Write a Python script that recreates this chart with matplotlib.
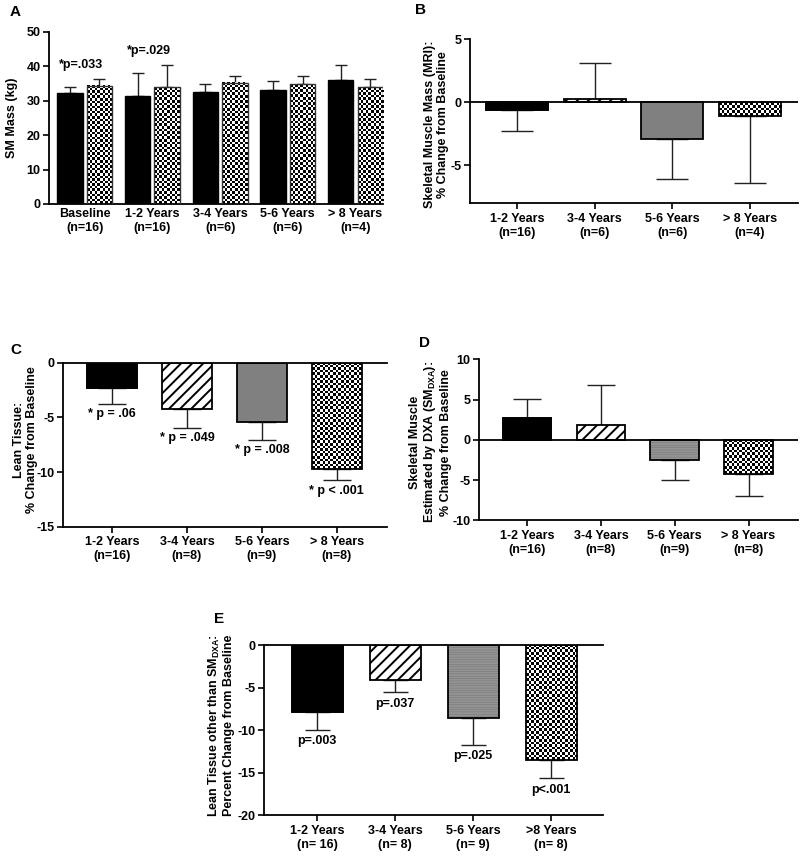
import numpy as np
import matplotlib
matplotlib.use('Agg')
import matplotlib.pyplot as plt

plt.rcParams['font.family'] = ['Liberation Sans', 'DejaVu Sans']
plt.rcParams['font.weight'] = 'bold'
plt.rcParams['font.size'] = 9
plt.rcParams['axes.labelweight'] = 'bold'
plt.rcParams['axes.unicode_minus'] = False
plt.rcParams['mathtext.fontset'] = 'custom'
plt.rcParams['mathtext.rm'] = 'Liberation Sans:bold'
plt.rcParams['mathtext.bf'] = 'Liberation Sans:bold'
plt.rcParams['hatch.linewidth'] = 1.4

# ---- data ----
a_groups = ['Baseline\n(n=16)', '1-2 Years\n(n=16)', '3-4 Years\n(n=6)',
            '5-6 Years\n(n=6)', '> 8 Years\n(n=4)']
a_black = [32.3, 31.5, 32.5, 33.2, 35.9]
a_black_err = [1.7, 6.5, 2.5, 2.6, 4.4]
a_check = [34.4, 33.9, 35.2, 34.8, 34.0]
a_check_err = [1.8, 6.4, 2.1, 2.3, 2.2]
a_notes = {0: '*p=.033', 1: '*p=.029'}

b_groups = ['1-2 Years\n(n=16)', '3-4 Years\n(n=6)', '5-6 Years\n(n=6)', '> 8 Years\n(n=4)']
b_vals = [-0.6, 0.3, -2.9, -1.08]
b_err = [1.7, 2.8, 3.15, 5.3]

c_groups = ['1-2 Years\n(n=16)', '3-4 Years\n(n=8)', '5-6 Years\n(n=9)', '> 8 Years\n(n=8)']
c_vals = [-2.35, -4.27, -5.46, -9.76]
c_err = [1.43, 1.71, 1.61, 1.01]
c_notes = ['* p = .06', '* p = .049', '* p = .008', '* p < .001']

d_groups = ['1-2 Years\n(n=16)', '3-4 Years\n(n=8)', '5-6 Years\n(n=9)', '> 8 Years\n(n=8)']
d_vals = [2.69, 1.82, -2.56, -4.3]
d_err = [2.4, 5.0, 2.4, 2.64]

e_groups = ['1-2 Years\n(n= 16)', '3-4 Years\n(n= 8)', '5-6 Years\n(n= 9)', '>8 Years\n(n= 8)']
e_vals = [-7.86, -4.13, -8.54, -13.56]
e_err = [2.09, 1.42, 3.18, 2.12]
e_notes = ['p=.003', 'p=.037', 'p=.025', 'p<.001']

fig = plt.figure(figsize=(8, 8.61), dpi=100)


def style_axes(ax, xticks=True):
    for s in ['top', 'right']:
        ax.spines[s].set_visible(False)
    for s in ['left', 'bottom']:
        ax.spines[s].set_linewidth(1.3)
    ax.tick_params(axis='y', direction='out', length=4, width=1.2, labelsize=9, pad=2)
    ax.tick_params(axis='x', direction='out', length=4 if xticks else 0,
                   width=1.2, labelsize=9, pad=3)
    for lab in ax.get_xticklabels() + ax.get_yticklabels():
        lab.set_fontweight('bold')


def checker(ax, bars, cell=2.6):
    # fill each bar with a black/white checkerboard of fixed pixel size
    for r in bars:
        x0, y0, w, h = r.get_x(), r.get_y(), r.get_width(), r.get_height()
        (px0, py0), (px1, py1) = ax.transData.transform([(x0, y0), (x0 + w, y0 + h)])
        nx = max(1, int(round(abs(px1 - px0) / cell)))
        ny = max(1, int(round(abs(py1 - py0) / cell)))
        grid = np.add.outer(np.arange(ny), np.arange(nx)) % 2
        ax.imshow(grid, cmap='gray', extent=(x0, x0 + w, y0, y0 + h), aspect='auto',
                  interpolation='nearest', zorder=2.5)


def one_sided_err(ax, x, vals, errs, capsize):
    vals = np.array(vals)
    errs = np.array(errs)
    lower = np.where(vals < 0, errs, 0)
    upper = np.where(vals >= 0, errs, 0)
    ax.errorbar(x, vals, yerr=[lower, upper], fmt='none', ecolor='#222222',
                elinewidth=1.0, capsize=capsize, capthick=1.0, zorder=1)


def four_bars(ax, vals, errs, width, capsize, gray_lines):
    x = np.arange(len(vals))
    one_sided_err(ax, x, vals, errs, capsize)
    ax.bar(x[0], vals[0], width, color='black', edgecolor='black', lw=1.2, zorder=2)
    ax.bar(x[1], vals[1], width, color='white', edgecolor='black', lw=0, hatch='///', zorder=2)
    if gray_lines:
        ax.bar(x[2], vals[2], width, color='#6e6e6e', edgecolor='#949494', lw=0,
               hatch='-------', zorder=2)
    else:
        ax.bar(x[2], vals[2], width, color='#808080', lw=0, zorder=2)
    chk = ax.bar(x[3], vals[3], width, color='white', lw=0, zorder=2)
    checker(ax, chk)
    ax.bar(x, vals, width, color='none', edgecolor='black', lw=1.3, zorder=3)
    return x


# ---- panel A ----
axA = fig.add_axes([0.06125, 0.7631, 0.4175, 0.1998])
axA.set_xlim(-0.527, 4.406)
axA.set_ylim(0, 50)
xa = np.arange(len(a_groups))
off, wa = 0.218, 0.376
one_sided_err(axA, xa - off, a_black, a_black_err, 4.3)
one_sided_err(axA, xa + off, a_check, a_check_err, 4.3)
axA.bar(xa - off, a_black, wa, color='black', edgecolor='black', lw=1.0, zorder=2)
chkA = axA.bar(xa + off, a_check, wa, color='white', lw=0, zorder=2)
checker(axA, chkA)
axA.bar(xa + off, a_check, wa, color='none', edgecolor='#333333', lw=1.0, zorder=3)
for i, txt in a_notes.items():
    top = max(a_black[i] + a_black_err[i], a_check[i] + a_check_err[i])
    axA.annotate(txt, (xa[i] - 0.05, top), xytext=(0, 6), textcoords='offset points',
                 ha='center', va='bottom', fontsize=9, fontweight='bold')
axA.set_xlim(-0.527, 4.406)
axA.set_ylim(0, 50)
axA.set_yticks([0, 10, 20, 30, 40, 50])
axA.set_xticks(xa)
axA.set_xticklabels(a_groups, linespacing=1.2)
axA.set_ylabel('SM Mass (kg)', fontsize=9)
axA.yaxis.set_label_coords(-0.092, 0.5)
style_axes(axA, xticks=False)

# ---- panel B ----
axB = fig.add_axes([0.5875, 0.7639, 0.41, 0.1905])
axB.set_xlim(-0.605, 3.62)
axB.set_ylim(-8, 5)
xb = four_bars(axB, b_vals, b_err, 0.8, 11.5, gray_lines=False)
axB.axhline(0, color='black', lw=1.3, zorder=4)
axB.set_xlim(-0.605, 3.62)
axB.set_ylim(-8, 5)
axB.set_yticks([-5, 0, 5])
axB.set_xticks(xb)
axB.set_xticklabels(b_groups, linespacing=1.2)
axB.set_ylabel('Skeletal Muscle Mass (MRI):\n% Change from Baseline', fontsize=9,
               linespacing=1.15)
axB.yaxis.set_label_coords(-0.063, 0.48)
style_axes(axB)

# ---- panel C ----
axC = fig.add_axes([0.0784, 0.3883, 0.4054, 0.1905])
axC.set_xlim(-0.657, 3.67)
axC.set_ylim(-15, 0)
xc = four_bars(axC, c_vals, c_err, 0.667, 10, gray_lines=False)
axC.axhline(0, color='black', lw=1.3, zorder=4, clip_on=False)
for i, txt in enumerate(c_notes):
    axC.annotate(txt, (xc[i], c_vals[i] - c_err[i]), xytext=(0, -3),
                 textcoords='offset points', ha='center', va='top',
                 fontsize=9, fontweight='bold')
axC.set_xlim(-0.657, 3.67)
axC.set_ylim(-15, 0)
axC.set_yticks([-15, -10, -5, 0])
axC.set_xticks(xc)
axC.set_xticklabels(c_groups, linespacing=1.2)
axC.set_ylabel('Lean Tissue:\n% Change from Baseline', fontsize=9, linespacing=1.15)
axC.yaxis.set_label_coords(-0.076, 0.53)
style_axes(axC)

# ---- panel D ----
axD = fig.add_axes([0.5984, 0.3957, 0.3991, 0.187])
axD.set_xlim(-0.655, 3.67)
axD.set_ylim(-10, 10)
xd = four_bars(axD, d_vals, d_err, 0.66, 10, gray_lines=True)
axD.axhline(0, color='black', lw=1.3, zorder=4)
axD.set_xlim(-0.655, 3.67)
axD.set_ylim(-10, 10)
axD.set_yticks([-10, -5, 0, 5, 10])
axD.set_xticks(xd)
axD.set_xticklabels(d_groups, linespacing=1.2)
axD.set_ylabel('Skeletal Muscle\nEstimated by DXA (SM$_{\\mathrm{DXA}}$):\n% Change from Baseline',
               fontsize=9, linespacing=1.15)
axD.yaxis.set_label_coords(-0.085, 0.484)
style_axes(axD)

# ---- panel E ----
axE = fig.add_axes([0.3304, 0.0534, 0.423, 0.1971])
axE.set_xlim(-0.676, 3.66)
axE.set_ylim(-20, 0)
xe = four_bars(axE, e_vals, e_err, 0.655, 9, gray_lines=True)
axE.axhline(0, color='black', lw=1.3, zorder=4, clip_on=False)
for i, txt in enumerate(e_notes):
    axE.annotate(txt, (xe[i], e_vals[i] - e_err[i]), xytext=(0, -4),
                 textcoords='offset points', ha='center', va='top',
                 fontsize=9, fontweight='bold')
axE.set_xlim(-0.676, 3.66)
axE.set_ylim(-20, 0)
axE.set_yticks([-20, -15, -10, -5, 0])
axE.set_xticks(xe)
axE.set_xticklabels(e_groups, linespacing=1.2)
axE.set_ylabel('Lean Tissue other than SM$_{\\mathrm{DXA}}$:\nPercent Change from Baseline',
               fontsize=9, linespacing=1.15)
axE.yaxis.set_label_coords(-0.087, 0.53)
style_axes(axE)

# ---- panel letters ----
for letter, (px, py) in {'A': (15, 12), 'B': (421, 10), 'C': (16, 350),
                         'D': (425, 343), 'E': (219, 619)}.items():
    fig.text(px / 800, 1 - py / 861, letter, fontsize=11, fontweight='bold',
             ha='center', va='center')

fig.savefig('out.png', dpi=100)
